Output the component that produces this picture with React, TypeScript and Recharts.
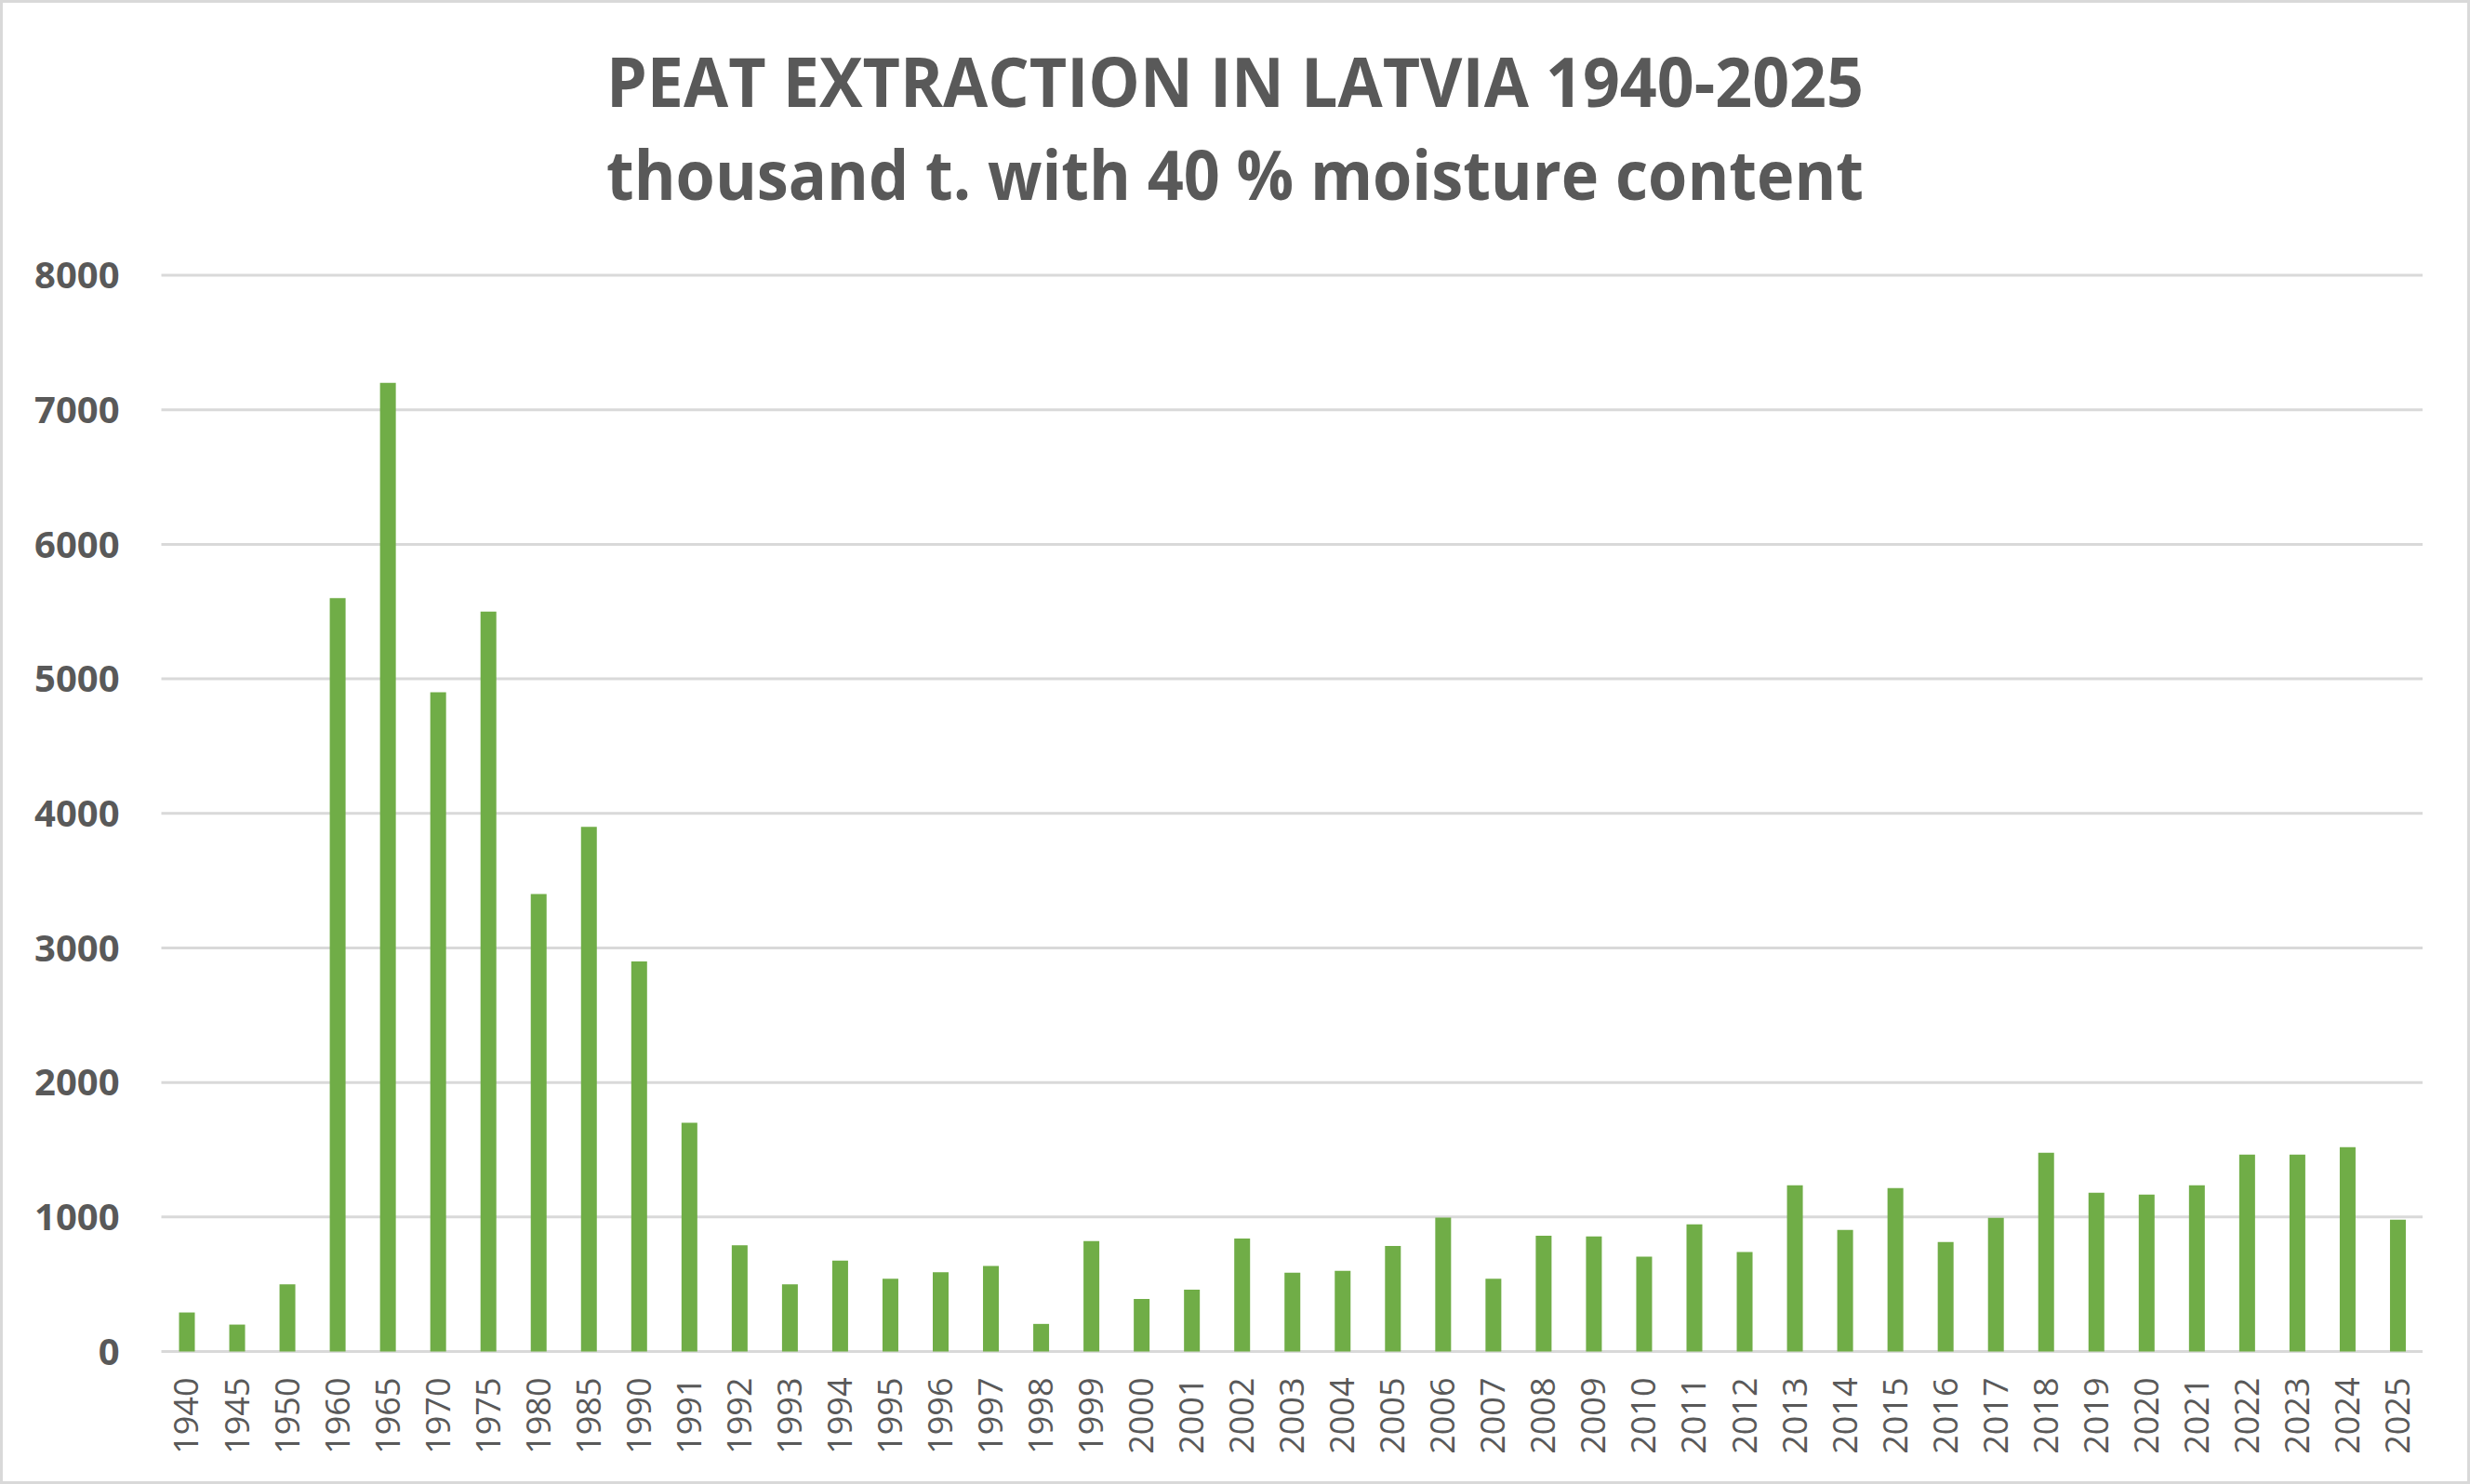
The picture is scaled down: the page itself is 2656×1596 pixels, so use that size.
import React from "react";
import { BarChart, Bar, XAxis, YAxis, CartesianGrid } from "recharts";

const W = 2656;
const H = 1596;

const years = [
  "1940", "1945", "1950", "1960", "1965", "1970", "1975", "1980", "1985", "1990",
  "1991", "1992", "1993", "1994", "1995", "1996", "1997", "1998", "1999", "2000",
  "2001", "2002", "2003", "2004", "2005", "2006", "2007", "2008", "2009", "2010",
  "2011", "2012", "2013", "2014", "2015", "2016", "2017", "2018", "2019", "2020",
  "2021", "2022", "2023", "2024", "2025",
];

// thousand t., 40 % moisture
const extraction = [
  290, 200, 500, 5600, 7200, 4900, 5500, 3400, 3900, 2900,
  1700, 790, 500, 675, 540, 590, 635, 205, 820, 390,
  460, 840, 585, 600, 785, 995, 540, 860, 855, 705,
  945, 740, 1236, 904, 1215, 814, 993, 1478, 1180, 1167,
  1236, 1464, 1464, 1519, 980,
];

const yTicks = [0, 1000, 2000, 3000, 4000, 5000, 6000, 7000, 8000];

const titleLines = [
  "PEAT EXTRACTION IN LATVIA 1940-2025",
  "thousand t. with 40 % moisture content",
];

const data = years.map((year, i) => ({ year, value: extraction[i] }));

const TEXT = "#595959";
const GRID = "#d9d9d9";
const GREEN = "#70ad47";

function YearTick(props: any) {
  const { x, y, payload } = props;
  return (
    <text
      x={x}
      y={y}
      dy="0.36em"
      transform={`rotate(-90, ${x}, ${y})`}
      textAnchor="end"
      fill={TEXT}
      fontFamily="'Open Sans', sans-serif"
      fontSize={36}
    >
      {payload.value}
    </text>
  );
}

export default function App() {
  return (
    <div style={{ position: "absolute", left: 0, top: 0, width: W, height: H, background: "#fff" }}>
      <BarChart
        width={W}
        height={H}
        data={data}
        margin={{ top: 296, right: 51, bottom: 0, left: 0 }}
      >
        <CartesianGrid vertical={false} stroke={GRID} strokeWidth={3} />
        <XAxis
          dataKey="year"
          interval={0}
          axisLine={false}
          tickLine={false}
          tickSize={0}
          tickMargin={28}
          height={142.5}
          tick={<YearTick />}
        />
        <YAxis
          domain={[0, 8000]}
          ticks={yTicks}
          axisLine={false}
          tickLine={false}
          tickSize={0}
          tickMargin={45}
          width={173.5}
          tick={{ fill: TEXT, fontSize: 40, fontWeight: 700, fontFamily: "'Open Sans', sans-serif" }}
        />
        <Bar dataKey="value" fill={GREEN} barSize={17} isAnimationActive={false} />
      </BarChart>

      <svg width={W} height={260} style={{ position: "absolute", left: 0, top: 0 }}>
        {titleLines.map((line, i) => (
          <text
            key={line}
            x={1328}
            y={115 + i * 100}
            textAnchor="middle"
            fill={TEXT}
            fontFamily="'Open Sans', sans-serif"
            fontWeight={700}
            fontSize={73}
            textLength={1352}
            lengthAdjust="spacingAndGlyphs"
          >
            {line}
          </text>
        ))}
      </svg>

      <div
        style={{
          position: "absolute",
          left: 0,
          top: 0,
          width: W,
          height: H,
          boxSizing: "border-box",
          border: `3px solid ${GRID}`,
          pointerEvents: "none",
        }}
      />
    </div>
  );
}
